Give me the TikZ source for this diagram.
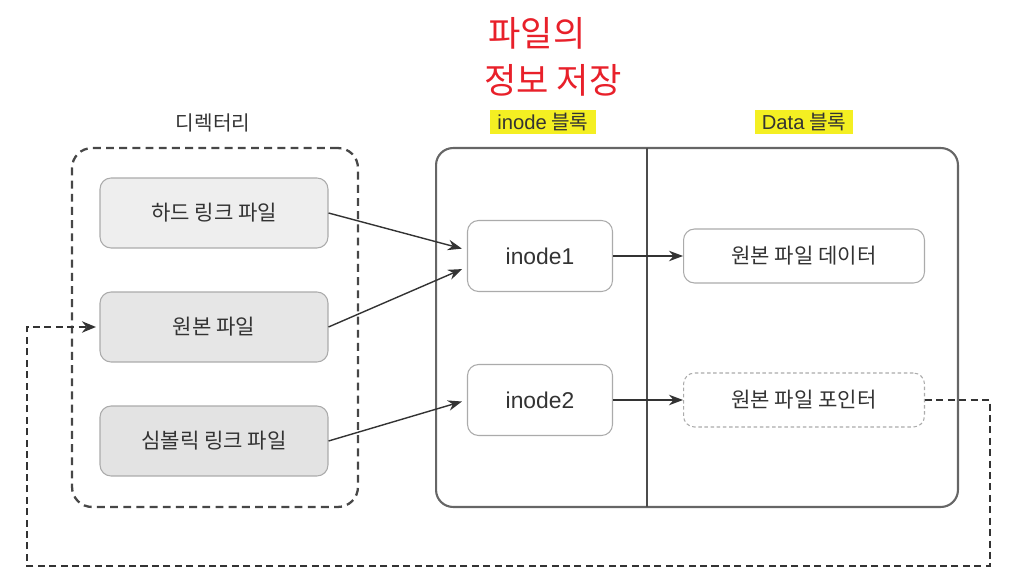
\documentclass[tikz,border=0pt]{standalone}
\usepackage{fontspec}
\setmainfont{Noto Sans CJK KR}
\newfontfamily\latinfont{Liberation Sans}
\usetikzlibrary{arrows.meta,positioning,calc}
\definecolor{Marker}{HTML}{F4EF22}
\definecolor{PenRed}{HTML}{E8202A}
\definecolor{FileA}{HTML}{EEEEEE}
\definecolor{FileB}{HTML}{E6E6E6}
\definecolor{FileC}{HTML}{E3E3E3}
\definecolor{EdgeGray}{HTML}{ABABAB}
\definecolor{Ink}{HTML}{333333}

\tikzset{
  handnote/.style={text=PenRed,font=\fontsize{20}{22}\selectfont},
  caption/.style={font=\fontsize{11.5}{13}\selectfont,text=Ink,inner xsep=4pt,inner ysep=2pt},
  filebox/.style={draw=EdgeGray,line width=0.6pt,rounded corners=0.22cm,
    minimum width=4.56cm,minimum height=1.4cm,font=\fontsize{12}{14}\selectfont,text=Ink},
  inodebox/.style={filebox,fill=white,minimum width=2.9cm,minimum height=1.42cm,
    font=\fontsize{13}{15}\selectfont\latinfont},
  databox/.style={filebox,fill=white,minimum width=4.82cm,minimum height=1.08cm},
  link/.style={draw=Ink,line width=0.8pt,-{Stealth[length=8pt,width=6pt]}},
}

\begin{document}
\begin{tikzpicture}[x=0.02cm,y=-0.02cm]
        \useasboundingbox (0,0) rectangle (1023,577);
        % handwritten note
        \node[handnote] (noteA) at (537,33) {파일의};
        \node[handnote] (noteB) at (553,80) {정보 저장};
        % captions
        \node[caption] (dirlabel) at (213,123) {디렉터리};
        \node[caption,fill=Marker] (inolabel) at (543,122) {{\latinfont inode} 블록};
        \node[caption,fill=Marker] (datalabel) at (804,122) {{\latinfont Data} 블록};
        % frames
        \node[draw=Ink!90,line width=1.3pt,dash pattern=on 4.5pt off 3pt,rounded corners=0.4cm,
          minimum width=5.72cm,minimum height=7.18cm] (dir) at (215,327.5) {};
        \node[draw=black!60,line width=1.2pt,rounded corners=0.34cm,
          minimum width=10.44cm,minimum height=7.18cm] (fs) at (697,327.5) {};
        \draw[draw=black!70,line width=0.6pt] (647,148) -- (647,507);
        % directory entries
        \node[filebox,fill=FileA] (hard) at (214,213) {하드 링크 파일};
        \node[filebox,fill=FileB] (orig) at (214,327) {원본 파일};
        \node[filebox,fill=FileC] (sym) at (214,441) {심볼릭 링크 파일};
        % inode and data blocks
        \node[inodebox] (inode1) at (540,256) {inode1};
        \node[inodebox] (inode2) at (540,400) {inode2};
        \node[databox] (data) at (804,256) {원본 파일 데이터};
        \node[databox,dashed,dash pattern=on 2pt off 1.5pt] (ptr) at (804,400) {원본 파일 포인터};
        % links
        \draw[link,shorten >=3pt] (hard.east) -- ([yshift=0.12cm]inode1.west);
        \draw[link,shorten >=3pt] (orig.east) -- ([yshift=-0.22cm]inode1.west);
        \draw[link,shorten >=3pt] (sym.east) -- (inode2.west);
        \draw[link] (inode1.east) -- (data.west);
        \draw[link] (inode2.east) -- (ptr.west);
        % symbolic link points back to the original
        \coordinate (loopR) at (990,566);
        \coordinate (loopL) at (27,566);
        \draw[draw=Ink,line width=1.1pt,dash pattern=on 4pt off 2.5pt,shorten >=2pt,
          -{Stealth[length=8pt,width=6.5pt]}]
          (ptr.east) -| (loopR) -- (loopL) |- (orig.west);
\end{tikzpicture}
\end{document}
